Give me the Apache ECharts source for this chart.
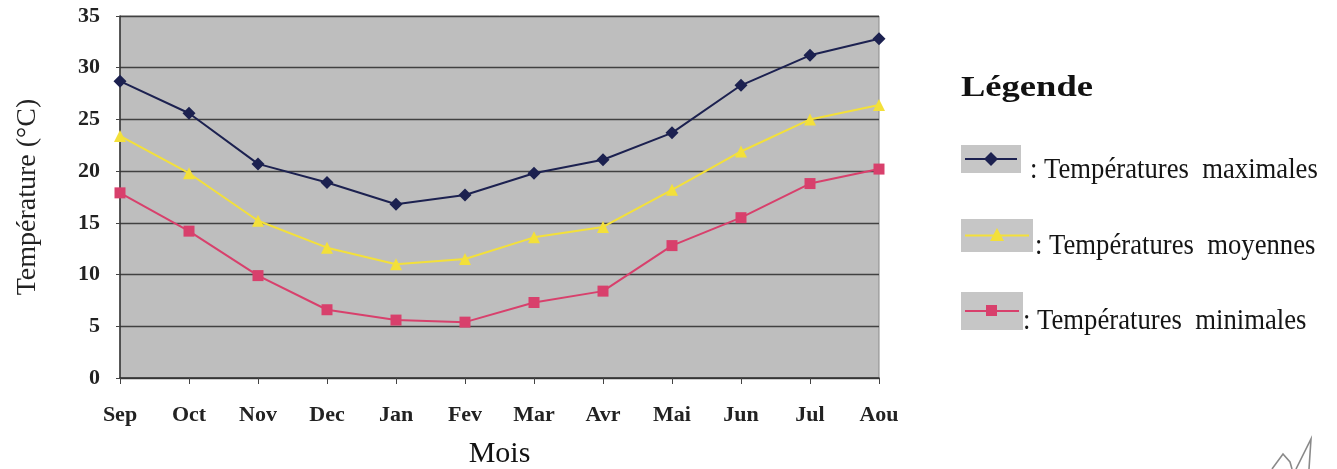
<!DOCTYPE html>
<html>
<head>
<meta charset="utf-8">
<script src="https://cdn.jsdelivr.net/npm/echarts@6/dist/echarts.min.js"></script>
<style>
  html, body { margin: 0; padding: 0; background: #ffffff; }
  #chart { width: 1337px; height: 469px; }
</style>
</head>
<body>
<div id="chart"></div>
<script>
// Monthly temperatures (°C), September to August
const months = ['Sep', 'Oct', 'Nov', 'Dec', 'Jan', 'Fev', 'Mar', 'Avr', 'Mai', 'Jun', 'Jul', 'Aou'];
const tempMax = [28.7, 25.6, 20.7, 18.9, 16.8, 17.7, 19.8, 21.1, 23.7, 28.3, 31.2, 32.8];
const tempMoy = [23.4, 19.8, 15.2, 12.6, 11.0, 11.5, 13.6, 14.6, 18.2, 21.9, 25.0, 26.4];
const tempMin = [17.9, 14.2, 9.9, 6.6, 5.6, 5.4, 7.3, 8.4, 12.8, 15.5, 18.8, 20.2];
const seriesNames = ['Températures  maximales', 'Températures  moyennes', 'Températures  minimales'];

const serif = '"Liberation Serif", "DejaVu Serif", serif';
const colMax = '#1c2150';
const colMoy = '#f3e03a';
const colMin = '#d8406c';
const plotBg = '#bebebe';

const chart = echarts.init(document.getElementById('chart'), null, { renderer: 'canvas' });

// Legend swatch: grey box with a line segment and the series marker, then its label
function swatch(x, y, w, h, color, symbol, label, textX, textY, sx) {
  const cy = y + h / 2;
  return [
    { type: 'rect', shape: { x: x, y: y, width: w, height: h }, style: { fill: '#c6c6c6' }, z: 10 },
    { type: 'line', shape: { x1: x + 4, y1: cy, x2: x + w - 4, y2: cy }, style: { stroke: color, lineWidth: 2 }, z: 11 },
    symbol,
    { type: 'text', x: textX, y: textY, scaleX: sx,
      style: { text: ': ' + label, font: '29px ' + serif, fill: '#151515', verticalAlign: 'middle' }, z: 11 }
  ];
}

const legendItems = [].concat(
  swatch(961, 145, 60, 28, colMax,
    { type: 'polygon', shape: { points: [[991, 152], [998, 159], [991, 166], [984, 159]] }, style: { fill: colMax }, z: 12 },
    seriesNames[0], 1030, 170, 0.92),
  swatch(961, 219, 72, 33, colMoy,
    { type: 'polygon', shape: { points: [[997, 228], [1004, 241], [990, 241]] }, style: { fill: colMoy }, z: 12 },
    seriesNames[1], 1035, 246, 0.92),
  swatch(961, 292, 62, 38, colMin,
    { type: 'rect', shape: { x: 986, y: 305, width: 11, height: 11 }, style: { fill: colMin }, z: 12 },
    seriesNames[2], 1023, 321, 0.92)
);

const option = {
  backgroundColor: '#ffffff',
  animation: false,
  grid: {
    left: 120, right: 458, top: 16, bottom: 91,
    containLabel: false,
    outerBoundsMode: 'none',
    show: true, backgroundColor: plotBg, borderColor: '#8a8a8a', borderWidth: 1
  },
  xAxis: {
    type: 'category',
    data: months,
    boundaryGap: false,
    name: 'Mois',
    nameLocation: 'middle',
    nameGap: 61,
    nameTextStyle: { fontFamily: serif, fontSize: 30, color: '#111' },
    axisLine: { show: true, lineStyle: { color: '#333', width: 1.5 } },
    axisTick: { show: true, alignWithLabel: true, length: 6, lineStyle: { color: '#444' } },
    axisLabel: { fontFamily: serif, fontSize: 22, fontWeight: 'bold', color: '#222', margin: 26 },
    splitLine: { show: false }
  },
  yAxis: {
    type: 'value',
    min: 0, max: 35, interval: 5,
    name: 'Température (°C)',
    nameLocation: 'middle',
    nameGap: 78,
    nameRotate: 90,
    nameTextStyle: { fontFamily: serif, fontSize: 28, color: '#222' },
    axisLine: { show: true, lineStyle: { color: '#333', width: 1.5 } },
    axisTick: { show: true, length: 4, lineStyle: { color: '#444' } },
    axisLabel: { fontFamily: serif, fontSize: 22, fontWeight: 'bold', color: '#222', margin: 20 },
    splitLine: { show: true, lineStyle: { color: '#414141', width: 1.3 } }
  },
  series: [
    {
      name: seriesNames[0], type: 'line', data: tempMax,
      symbol: 'diamond', symbolSize: 13,
      lineStyle: { color: colMax, width: 2 },
      itemStyle: { color: colMax }
    },
    {
      name: seriesNames[1], type: 'line', data: tempMoy,
      symbol: 'triangle', symbolSize: 12,
      lineStyle: { color: colMoy, width: 2 },
      itemStyle: { color: colMoy }
    },
    {
      name: seriesNames[2], type: 'line', data: tempMin,
      symbol: 'rect', symbolSize: 11,
      lineStyle: { color: colMin, width: 2 },
      itemStyle: { color: colMin }
    }
  ],
  graphic: [
    { type: 'text', x: 961, y: 89, scaleX: 1.26,
      style: { text: 'Légende', font: 'bold 29px ' + serif, fill: '#111', verticalAlign: 'middle' }, z: 10 },
    // pen mark in the lower right corner
    { type: 'polyline', shape: { points: [[1272, 469], [1283, 454], [1290, 462], [1292, 469]] }, style: { stroke: '#8a8a8a', lineWidth: 1.6, fill: null }, z: 10 },
    { type: 'polyline', shape: { points: [[1296, 469], [1311, 439], [1309, 469]] }, style: { stroke: '#8a8a8a', lineWidth: 1.6, fill: null }, z: 10 }
  ].concat(legendItems)
};

chart.setOption(option);
</script>
</body>
</html>
